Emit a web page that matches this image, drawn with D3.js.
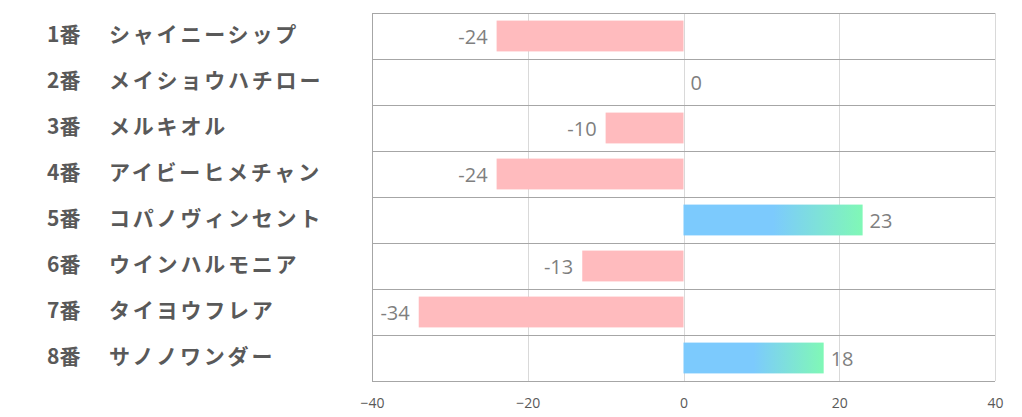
<!DOCTYPE html>
<html><head><meta charset="utf-8">
<script src="https://cdn.jsdelivr.net/npm/d3@7"></script>
<style>body{margin:0;background:#fff;} svg{display:block;}</style>
</head><body>
<script>
const numbers = ["1番","2番","3番","4番","5番","6番","7番","8番"];
const names = ["シャイニーシップ","メイショウハチロー","メルキオル","アイビーヒメチャン","コパノヴィンセント","ウインハルモニア","タイヨウフレア","サノノワンダー"];
const values = [-24, 0, -10, -24, 23, -13, -34, 18];
const tickValues = [-40, -20, 0, 20, 40];

(function(){
const W = 1022, H = 417;
const pLeft = 372, pRight = 995, pTop = 13, pBottom = 381;
const svg = d3.select("body").append("svg").attr("width", W).attr("height", H);

const defs = svg.append("defs");
const grad = defs.append("linearGradient").attr("id","pos").attr("x1","0").attr("x2","1").attr("y1","0").attr("y2","0");
grad.append("stop").attr("offset","0%").attr("stop-color","#7ccafd");
grad.append("stop").attr("offset","50%").attr("stop-color","#7ccafd");
grad.append("stop").attr("offset","100%").attr("stop-color","#80f8b6");

const x = d3.scaleLinear().domain([-40, 40]).range([pLeft, pRight]);
const y = d3.scaleBand().domain(d3.range(values.length)).range([pTop, pBottom]).paddingInner(0.33).paddingOuter(0.165);
const step = y.step();

// vertical gridlines
svg.append("g").selectAll("line").data(tickValues).join("line")
  .attr("x1", d => Math.round(x(d))+0.5).attr("x2", d => Math.round(x(d))+0.5)
  .attr("y1", pTop).attr("y2", pBottom)
  .attr("stroke", d => (d === -40) ? "#a6a6a6" : "#d9d9d9").attr("stroke-width", 1);

// horizontal row separators
svg.append("g").selectAll("line").data(d3.range(values.length + 1)).join("line")
  .attr("x1", pLeft).attr("x2", pRight)
  .attr("y1", i => Math.round(pTop + i*step)+0.5).attr("y2", i => Math.round(pTop + i*step)+0.5)
  .attr("stroke", "#a6a6a6").attr("stroke-width", 1);

// bars
svg.append("g").selectAll("rect").data(values).join("rect")
  .attr("x", d => x(Math.min(0, d)))
  .attr("width", d => Math.abs(x(d) - x(0)))
  .attr("y", (d,i) => y(i))
  .attr("height", y.bandwidth())
  .attr("fill", d => d < 0 ? "#ffbbbe" : "url(#pos)");

// value labels
svg.append("g").selectAll("text").data(values).join("text")
  .attr("x", d => d < 0 ? x(d) - 9 : x(d) + 7)
  .attr("y", (d,i) => y(i) + y.bandwidth()/2 + 3)
  .attr("dominant-baseline", "middle")
  .attr("text-anchor", d => d < 0 ? "end" : "start")
  .attr("font-family", "'Open Sans', 'Noto Sans', sans-serif")
  .attr("font-size", 20)
  .attr("fill", "#7f7f7f")
  .text(d => d);

// category labels
const lab = svg.append("g").selectAll("g").data(names).join("g")
  .attr("transform", (d,i) => `translate(0,${y(i) + y.bandwidth()/2})`);
lab.append("text").attr("x", 47).attr("dominant-baseline","middle")
  .attr("font-family", "'Noto Sans CJK JP', sans-serif").attr("font-weight", "bold")
  .attr("font-size", 21).attr("fill", "#595959")
  .text((d,i) => numbers[i]);
lab.append("text").attr("x", 109).attr("dominant-baseline","middle")
  .attr("font-family", "'Noto Sans CJK JP', sans-serif").attr("font-weight", "bold")
  .attr("font-size", 21).attr("fill", "#595959").attr("letter-spacing", 2.8)
  .text(d => d);

// x axis tick labels
const axis = d3.axisBottom(x).tickValues(tickValues).tickSize(0).tickPadding(0);
const ag = svg.append("g").attr("transform", `translate(0,${pBottom + 17})`).call(axis);
ag.select(".domain").remove();
ag.selectAll("text").attr("font-family", "'Open Sans', 'Noto Sans', sans-serif")
  .attr("font-size", 14).attr("fill", "#595959").attr("dy", "0.71em");
})();
</script>
</body></html>
